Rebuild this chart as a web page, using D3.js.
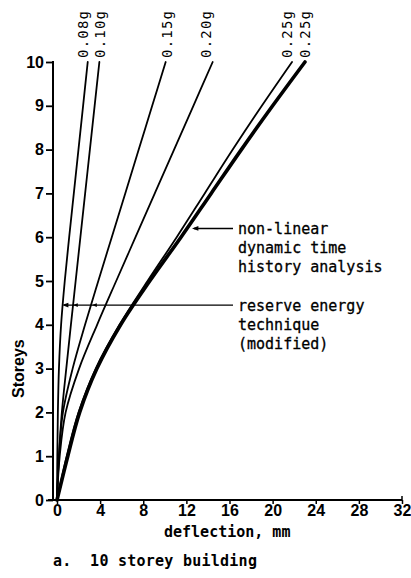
<!DOCTYPE html>
<html>
<head>
<meta charset="utf-8">
<script src="https://cdn.jsdelivr.net/npm/d3@7"></script>
<style>
  body { margin: 0; background: #fff; }
  .mono { font-family: "DejaVu Sans Mono", monospace; }
  .num { font-family: "Liberation Sans", Arial, sans-serif; font-weight: bold; }
</style>
</head>
<body>
<div class="chartContainer"></div>
<script>
// storey levels and deflections (mm)
const storeys = [0, 1, 2, 3, 4, 5, 6, 7, 8, 9, 10];
const defl008 = [0, 0.03, 0.08, 0.18, 0.38, 0.72, 1.13, 1.56, 1.99, 2.42, 2.85];
const defl010 = [0, 0.18, 0.45, 0.86, 1.29, 1.73, 2.17, 2.61, 3.05, 3.49, 3.93];
const defl015 = [0, 0.18, 0.55, 1.45, 2.6, 3.83, 5.08, 6.33, 7.58, 8.83, 10.08];
const defl020 = [0, 0.25, 0.8, 2.05, 3.72, 5.49, 7.28, 9.07, 10.86, 12.65, 14.44];
const defl025 = [0, 0.9, 2.0, 3.6, 5.8, 8.4, 11.1, 13.7, 16.3, 19.0, 21.8];
const defl025nl = [0, 1.0, 2.1, 3.7, 5.9, 8.6, 11.5, 14.3, 17.1, 20.0, 23.0];
const seriesLabels = ["0.08g", "0.10g", "0.15g", "0.20g", "0.25g", "0.25g"];

const xTicks = [0, 4, 8, 12, 16, 20, 24, 28, 32];
const yTicks = [0, 1, 2, 3, 4, 5, 6, 7, 8, 9, 10];

const width = 411, height = 578;
const margins = { top: 62, bottom: 78, left: 57, right: 9 };
// small sideways nudges of the rotated labels, px
const labelShift = [-5, 1, 1, -7, -5, 0];

const svg = d3.select('.chartContainer')
  .append('svg')
  .attr('width', width)
  .attr('height', height);

const xScale = d3.scaleLinear().domain([0, 32]).range([margins.left, width - margins.right]);
const yScale = d3.scaleLinear().domain([0, 10]).range([height - margins.bottom, margins.top]);

const series = [defl008, defl010, defl015, defl020, defl025, defl025nl];
const widths = [1.8, 1.8, 1.8, 1.8, 1.8, 3.6];

const line = d3.line()
  .x(d => xScale(d[1]))
  .y(d => yScale(d[0]))
  .curve(d3.curveCatmullRom.alpha(0.5));

const chart = svg.append('g');
chart.selectAll('path.curve')
  .data(series)
  .enter()
  .append('path')
  .attr('class', 'curve')
  .attr('d', d => line(storeys.map((s, i) => [s, d[i]])))
  .attr('fill', 'none')
  .attr('stroke', '#000')
  .attr('stroke-width', (d, i) => widths[i])
  .attr('stroke-linecap', 'round');

// labels at the top of each curve
chart.selectAll('.glabel')
  .data(series)
  .enter()
  .append('text')
  .attr('class', 'glabel mono')
  .attr('transform', (d, i) => `translate(${xScale(d[d.length - 1]) + labelShift[i]},58) rotate(-90)`)
  .attr('dy', '0.35em')
  .attr('font-size', 14)
  .attr('letter-spacing', 1.2)
  .text((d, i) => seriesLabels[i]);

// axes
const axisX = xScale(0) - 4;
const yAxis = svg.append('g')
  .attr('transform', `translate(${axisX},0)`)
  .call(d3.axisLeft(yScale).tickValues(yTicks).tickSize(7).tickSizeOuter(0).tickPadding(2));
yAxis.select('.domain').remove();
yAxis.selectAll('line').attr('stroke-width', 1.8);
yAxis.selectAll('text').attr('class', 'num').attr('font-size', 16).attr('fill', '#000');
yAxis.append('line')
  .attr('x1', 0).attr('x2', 0)
  .attr('y1', yScale(10) - 1).attr('y2', yScale(0))
  .attr('stroke', '#000').attr('stroke-width', 2);

const xAxis = svg.append('g')
  .attr('transform', `translate(0,${yScale(0)})`)
  .call(d3.axisBottom(xScale).tickValues(xTicks).tickSize(4).tickSizeOuter(0).tickPadding(1));
xAxis.select('.domain').remove();
xAxis.selectAll('line').attr('stroke-width', 1.5);
xAxis.selectAll('text').attr('class', 'num').attr('font-size', 16).attr('fill', '#000');
xAxis.append('line')
  .attr('x1', axisX - 5).attr('x2', xScale(32))
  .attr('stroke', '#000').attr('stroke-width', 2);
xAxis.append('line')
  .attr('x1', xScale(32)).attr('x2', xScale(32))
  .attr('y1', -4).attr('y2', 0)
  .attr('stroke', '#000').attr('stroke-width', 1.5);

svg.append('text')
  .attr('class', 'num')
  .attr('transform', `translate(24,${yScale(3.0)}) rotate(-90)`)
  .attr('text-anchor', 'middle')
  .attr('font-size', 16)
  .text('Storeys');

svg.append('text')
  .attr('class', 'mono')
  .attr('x', 164).attr('y', 537)
  .attr('font-size', 15)
  .style('font-weight', 'bold')
  .text('deflection, mm');

svg.append('text')
  .attr('class', 'mono')
  .attr('x', 53).attr('y', 566)
  .attr('font-size', 15)
  .attr('letter-spacing', 0.25)
  .style('font-weight', 'bold')
  .style('white-space', 'pre')
  .text('a.  10 storey building');

// annotations
function arrowHead(x, y, size) {
  svg.append('path')
    .attr('d', `M${x},${y} l${size * 1.6},${-size * 0.6} l0,${size * 1.2} z`)
    .attr('fill', '#000');
}

const nlY = yScale(6.2);
svg.append('line')
  .attr('x1', 233).attr('x2', 194)
  .attr('y1', nlY).attr('y2', nlY)
  .attr('stroke', '#000').attr('stroke-width', 1.6);
arrowHead(192, nlY, 4);

const reY = yScale(4.45);
svg.append('line')
  .attr('x1', 233).attr('x2', 64)
  .attr('y1', reY).attr('y2', reY)
  .attr('stroke', '#000').attr('stroke-width', 1.4);
arrowHead(62, reY, 4);
arrowHead(73, reY, 3);
arrowHead(92, reY, 3);

const noteLines = [
  { t: 'non-linear', y: 234 },
  { t: 'dynamic time', y: 253 },
  { t: 'history analysis', y: 272 },
  { t: 'reserve energy', y: 311 },
  { t: 'technique', y: 330 },
  { t: '(modified)', y: 349 }
];
svg.selectAll('.note')
  .data(noteLines)
  .enter()
  .append('text')
  .attr('class', 'note mono')
  .attr('x', 238)
  .attr('y', d => d.y)
  .attr('font-size', 15)
  .attr('stroke', '#000')
  .attr('stroke-width', 0.3)
  .text(d => d.t);
</script>
</body>
</html>
